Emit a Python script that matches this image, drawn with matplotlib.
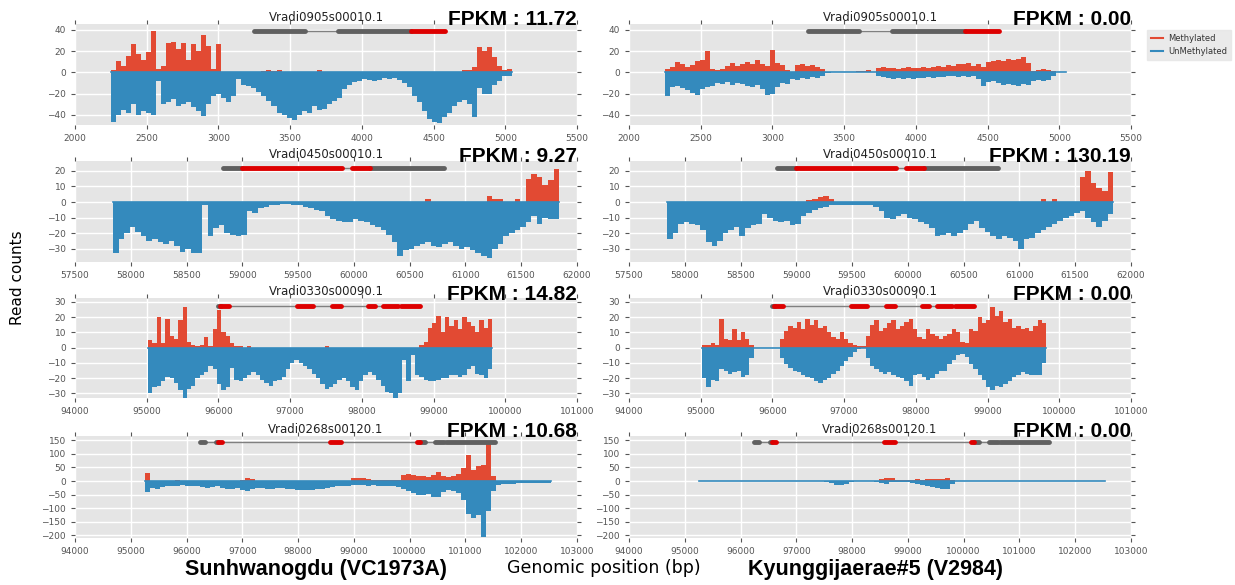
import numpy as np
import matplotlib
matplotlib.use("Agg")
import matplotlib.pyplot as plt
from matplotlib.lines import Line2D

plt.rcParams["axes.formatter.useoffset"] = False

# old ggplot colours
RED = "#E24A33"
BLUE = "#348ABD"

# one entry per row of panels
genes = ["Vradi0905s00010.1", "Vradi0450s00010.1", "Vradi0330s00090.1", "Vradi0268s00120.1"]
fpkm_left = ["11.72", "9.27", "14.82", "10.68"]
fpkm_right = ["0.00", "130.19", "0.00", "0.00"]

# first position and bin size of the read count tracks (bp)
start_pos = [2250, 57840, 95020, 95250]
bin_size = [35, 50, 60, 90]

x_ticks = [list(range(2000, 5501, 500)), list(range(57500, 62001, 500)),
           list(range(94000, 101001, 1000)), list(range(94000, 103001, 1000))]
y_ticks = [[-40, -20, 0, 20, 40], [-30, -20, -10, 0, 10, 20],
           [-30, -20, -10, 0, 10, 20, 30], [-200, -150, -100, -50, 0, 50, 100, 150]]
y_lims = [(-49.5, 45.5), (-38.6, 26.4), (-33, 32.6), (-210, 166)]

# gene models: whole span, thick grey blocks, red blocks, height drawn at
gene_span = [(3246, 4578), (58825, 60805), (96000, 98810), (96237, 101534)]
gene_grey = [[(3246, 3607), (3831, 4342)],
             [(58825, 58995), (60145, 60805)],
             [(96000, 96030)],
             [(96237, 96333), (96520, 96570), (100185, 100270), (100460, 100610), (100650, 101534)]]
gene_red = [[(4342, 4578)],
            [(58995, 59895), (59985, 60145)],
            [(96015, 96150), (97100, 97325), (97590, 97715), (98085, 98185), (98300, 98500), (98550, 98810)],
            [(96570, 96635), (98575, 98770), (100140, 100185)]]
gene_y = [38.5, 22, 27.2, 144]

# ---- row 1 : Vradi0905s00010.1 ----
meth_1_left = [2, 11, 6, 15, 27, 17, 12, 19, 39, 3,
               6, 28, 29, 22, 28, 12, 27, 20, 35, 25,
               3, 27, 0, 0, 0, 0, 0, 0, 0, 0,
               1, 2, 1, 2, 0, 0, 0, 0, 0, 0,
               0, 2, 0, 0, 0, 0, 0, 0, 0, 0,
               0, 0, 0, 0, 0, 0, 0, 0, 0, 0,
               0, 0, 0, 0, 0, 0, 0, 0, 0, 0,
               2, 2, 5, 24, 20, 24, 14, 6, 2, 3]
unmeth_1_left = [-47, -40, -35, -38, -30, -40, -36, -38, -40, -8,
                 -30, -28, -25, -32, -30, -28, -33, -36, -41, -30,
                 -22, -20, -24, -28, -22, -6, -12, -13, -15, -18,
                 -22, -27, -32, -38, -40, -43, -45, -40, -36, -38,
                 -32, -35, -34, -30, -27, -24, -16, -12, -9, -8,
                 -6, -7, -8, -7, -5, -6, -5, -7, -10, -14,
                 -22, -28, -36, -44, -47, -48, -42, -38, -32, -28,
                 -26, -30, -42, -15, -20, -20, -12, -8, -3, -3]
meth_1_right = [3, 5, 10, 8, 5, 7, 11, 12, 20, 3,
                2, 3, 6, 9, 6, 8, 10, 8, 12, 8,
                6, 21, 9, 7, 2, 0, 7, 8, 6, 7,
                5, 3, 0, 0, 0, 0, 0, 0, 1, 1,
                2, 0, 4, 5, 4, 4, 3, 4, 5, 4,
                4, 5, 4, 5, 6, 5, 7, 6, 8, 8,
                9, 6, 8, 5, 10, 11, 12, 11, 13, 12,
                13, 14, 9, 1, 2, 3, 2, 1, 0, 0]
unmeth_1_right = [-22, -14, -13, -15, -17, -19, -21, -16, -14, -13,
                  -10, -11, -9, -12, -10, -11, -13, -14, -12, -16,
                  -21, -20, -14, -10, -11, -6, -7, -5, -6, -4,
                  -5, -3, -1, 0, 0, 0, 0, 0, 0, 0,
                  0, 0, -3, -4, -5, -6, -5, -6, -5, -6,
                  -5, -5, -4, -5, -4, -4, -3, -3, -4, -3,
                  -4, -3, -6, -13, -9, -8, -10, -12, -11, -12,
                  -13, -11, -12, -8, -7, -8, -7, -3, 0, 0]

# ---- row 2 : Vradi0450s00010.1 ----
meth_2_left = [0, 0, 0, 0, 0, 0, 0, 0, 0, 0,
               0, 0, 0, 0, 0, 0, 0, 0, 0, 0,
               0, 0, 0, 0, 0, 0, 0, 0, 0, 0,
               0, 0, 0, 0, 0, 0, 0, 0, 0, 0,
               0, 0, 0, 0, 0, 0, 0, 0, 0, 0,
               0, 0, 0, 0, 0, 0, 2, 0, 0, 0,
               0, 0, 0, 0, 0, 0, 0, 4, 2, 2,
               0, 0, 2, 0, 15, 18, 16, 11, 14, 21]
unmeth_2_left = [-33, -24, -20, -16, -19, -22, -25, -24, -26, -27,
                 -25, -28, -32, -30, -33, -33, -2, -22, -17, -15,
                 -20, -21, -22, -21, -6, -7, -4, -3, -2, -2,
                 -1, -1, -2, -2, -3, -4, -5, -6, -9, -11,
                 -12, -13, -13, -11, -12, -13, -15, -16, -18, -21,
                 -26, -35, -31, -30, -28, -27, -26, -28, -29, -27,
                 -26, -28, -30, -29, -31, -33, -35, -36, -30, -27,
                 -22, -20, -18, -16, -13, -9, -14, -10, -11, -11]
meth_2_right = [0, 0, 0, 0, 0, 0, 0, 0, 0, 0,
                0, 0, 0, 0, 0, 0, 0, 0, 0, 0,
                0, 0, 0, 0, 0, 1, 2, 3, 4, 2,
                0, 0, 0, 0, 0, 0, 0, 0, 0, 0,
                0, 0, 0, 0, 0, 0, 0, 0, 0, 0,
                0, 0, 0, 0, 0, 0, 0, 0, 0, 0,
                0, 0, 0, 0, 0, 0, 0, 2, 0, 2,
                0, 0, 0, 0, 16, 20, 12, 9, 7, 19]
unmeth_2_right = [-24, -20, -14, -13, -14, -15, -18, -26, -28, -25,
                  -20, -18, -16, -22, -17, -15, -14, -8, -10, -12,
                  -13, -12, -15, -14, -9, -7, -5, -4, -3, -2,
                  -2, -2, -2, -2, -2, -2, -2, -3, -6, -10,
                  -11, -9, -8, -10, -11, -13, -14, -17, -22, -21,
                  -20, -22, -20, -18, -14, -12, -17, -19, -22, -24,
                  -22, -23, -25, -30, -24, -23, -20, -18, -16, -14,
                  -12, -10, -9, -7, -6, -10, -13, -16, -12, -8]

# ---- row 3 : Vradi0330s00090.1 ----
meth_3_left = [5, 3, 20, 3, 19, 8, 6, 18, 27, 4,
               2, 1, 2, 7, 1, 12, 25, 10, 8, 3,
               1, 1, 0, 1, 0, 0, 0, 0, 0, 0,
               0, 0, 0, 0, 0, 0, 0, 0, 0, 0,
               0, 1, 0, 0, 0, 0, 0, 0, 0, 0,
               0, 0, 0, 0, 0, 0, 0, 0, 0, 0,
               0, 0, 0, 2, 4, 13, 16, 21, 10, 20,
               14, 18, 12, 20, 17, 14, 10, 18, 13, 19]
unmeth_3_left = [-30, -26, -25, -22, -19, -20, -23, -28, -33, -27,
                 -25, -20, -18, -16, -12, -14, -24, -28, -26, -13,
                 -21, -22, -20, -18, -16, -18, -21, -23, -25, -22,
                 -21, -19, -14, -10, -8, -10, -12, -14, -17, -20,
                 -24, -27, -26, -24, -21, -20, -22, -26, -28, -22,
                 -18, -16, -18, -21, -25, -29, -30, -33, -30, -8,
                 -22, -5, -18, -19, -21, -22, -22, -21, -20, -20,
                 -18, -18, -19, -18, -14, -12, -17, -18, -20, -14]
meth_3_right = [2, 2, 3, 2, 19, 6, 5, 12, 5, 10,
                6, 2, 0, 0, 0, 0, 0, 0, 6, 11,
                14, 13, 17, 12, 19, 15, 18, 13, 14, 10,
                7, 6, 10, 6, 3, 2, 1, 1, 8, 15,
                18, 11, 13, 16, 18, 12, 14, 17, 19, 12,
                7, 6, 12, 9, 8, 6, 8, 9, 12, 10,
                4, 3, 12, 11, 20, 16, 18, 27, 21, 24,
                17, 19, 13, 14, 12, 13, 11, 14, 18, 16]
unmeth_3_right = [-20, -26, -21, -22, -14, -15, -17, -16, -15, -19,
                  -18, -7, 0, 0, 0, 0, 0, 0, -7, -11,
                  -13, -15, -16, -18, -19, -20, -22, -23, -21, -20,
                  -17, -15, -12, -9, -6, -3, -1, 0, -7, -12,
                  -14, -16, -17, -16, -18, -19, -20, -22, -25, -18,
                  -17, -19, -21, -20, -17, -15, -15, -11, -8, -5,
                  -4, -6, -11, -14, -18, -21, -26, -28, -25, -26,
                  -24, -22, -19, -18, -16, -17, -18, -18, -18, -10]

# ---- row 4 : Vradi0268s00120.1 ----
meth_4_left = [30, 0, 0, 0, 0, 0, 2, 0, 0, 0,
               0, 0, 0, 0, 0, 0, 0, 0, 0, 5,
               12, 8, 0, 0, 0, 0, 0, 0, 0, 0,
               0, 0, 0, 0, 0, 0, 0, 0, 0, 0,
               0, 10, 13, 11, 6, 2, 2, 2, 2, 2,
               5, 24, 25, 22, 18, 20, 15, 22, 33, 20,
               15, 18, 25, 48, 95, 40, 55, 60, 145, 20,
               0, 0, 0, 0, 0, 0, 0, 0, 0, 0, 0]
unmeth_4_left = [-40, -25, -30, -22, -20, -18, -17, -16, -18, -19,
                 -20, -22, -24, -22, -20, -24, -28, -30, -27, -32,
                 -35, -30, -27, -25, -28, -30, -27, -26, -29, -30,
                 -32, -33, -34, -32, -30, -28, -25, -22, -20, -18,
                 -17, -16, -15, -15, -17, -16, -18, -17, -19, -20,
                 -22, -28, -38, -45, -50, -52, -48, -58, -60, -40,
                 -32, -38, -45, -70, -120, -135, -125, -205, -110, -35,
                 -14, -12, -10, -10, -9, -9, -8, -8, -7, -6, -6]
meth_4_right = [0, 0, 0, 0, 0, 0, 0, 0, 0, 0,
                0, 0, 0, 0, 0, 0, 0, 0, 0, 0,
                0, 0, 0, 0, 0, 0, 0, 0, 0, 0,
                0, 0, 0, 0, 0, 0, 8, 12, 10, 4,
                3, 2, 4, 6, 5, 7, 6, 8, 9, 12,
                3, 0, 0, 0, 0, 0, 0, 0, 0, 0,
                0, 0, 0, 0, 0, 0, 0, 0, 0, 0,
                0, 0, 0, 0, 0, 0, 0, 0, 0, 0, 0]
unmeth_4_right = [0, 0, 0, 0, 0, 0, 0, 0, 0, 0,
                  0, 0, 0, 0, 0, 0, 0, 0, 0, 0,
                  0, 0, 0, 0, 0, -4, -8, -13, -15, -10,
                  -3, 0, 0, 0, 0, -2, -8, -10, -5, -4,
                  -4, -3, -6, -10, -14, -18, -22, -26, -30, -28,
                  -12, 0, 0, 0, 0, 0, 0, 0, 0, 0,
                  0, 0, 0, 0, 0, 0, 0, 0, 0, 0,
                  0, 0, 0, 0, 0, 0, 0, 0, 0, 0, 0]

left_tracks = [(meth_1_left, unmeth_1_left), (meth_2_left, unmeth_2_left),
               (meth_3_left, unmeth_3_left), (meth_4_left, unmeth_4_left)]
right_tracks = [(meth_1_right, unmeth_1_right), (meth_2_right, unmeth_2_right),
                (meth_3_right, unmeth_3_right), (meth_4_right, unmeth_4_right)]


# Draw one panel: read counts, gene model and labels
def draw_panel(ax, row, meth, unmeth, fpkm):
    x = start_pos[row] + bin_size[row] * np.arange(len(meth))
    edges = np.append(x, x[-1] + bin_size[row])
    ax.stairs(meth, edges, fill=True, color=RED, lw=0, zorder=2)
    ax.stairs(unmeth, edges, fill=True, color=BLUE, lw=0, zorder=2)
    ax.plot([edges[0], edges[-1]], [0, 0], color=BLUE, lw=1.2, zorder=2)

    # gene model on top
    gy = gene_y[row]
    ax.plot(gene_span[row], [gy, gy], color="#808080", lw=1, zorder=3)
    for a, b in gene_grey[row]:
        ax.plot([a, b], [gy, gy], color="#606060", lw=3.5, solid_capstyle="round", zorder=4)
    for a, b in gene_red[row]:
        ax.plot([a, b], [gy, gy], color="#DD0000", lw=3.5, solid_capstyle="round", zorder=4)

    ax.set_xlim(x_ticks[row][0], x_ticks[row][-1])
    ax.set_ylim(y_lims[row])
    ax.set_xticks(x_ticks[row])
    ax.set_yticks(y_ticks[row])

    ax.set_facecolor("#E5E5E5")
    for sp in ax.spines.values():
        sp.set_visible(False)
    ax.grid(True, color="white", lw=1)
    ax.set_axisbelow(True)
    ax.tick_params(direction="out", length=3, width=0.8, color="#555555",
                   labelcolor="#555555", labelsize=6.5, top=True, right=True)

    ax.set_title(genes[row], fontsize=8.5, pad=2, color="#222222")
    ax.text(1.0, 1.04, "FPKM : " + fpkm, transform=ax.transAxes, ha="right", va="center",
            fontsize=15, fontweight="bold", family="Liberation Sans")


fig = plt.figure(figsize=(12.35, 5.85), dpi=100)

W, H = 1235.0, 585.0
row_px = [(24, 125), (161, 262), (298, 398), (436, 538)]
for r in range(4):
    top, bot = row_px[r]
    axl = fig.add_axes([75 / W, 1 - bot / H, 502 / W, (bot - top) / H])
    draw_panel(axl, r, left_tracks[r][0], left_tracks[r][1], fpkm_left[r])
    axr = fig.add_axes([629 / W, 1 - bot / H, 502 / W, (bot - top) / H])
    draw_panel(axr, r, right_tracks[r][0], right_tracks[r][1], fpkm_right[r])

# figure labels
fig.text(316 / W, 1 - 570 / H, "Sunhwanogdu (VC1973A)", ha="center", va="center",
         fontsize=15.5, fontweight="bold", family="Liberation Sans")
fig.text(876 / W, 1 - 570 / H, "Kyunggijaerae#5 (V2984)", ha="center", va="center",
         fontsize=15.5, fontweight="bold", family="Liberation Sans")
fig.text(604 / W, 1 - 568 / H, "Genomic position (bp)", ha="center", va="center", fontsize=12.5)
fig.text(18 / W, 1 - 278 / H, "Read counts", ha="center", va="center", rotation=90, fontsize=11)

handles = [Line2D([], [], color=RED, lw=1.5), Line2D([], [], color=BLUE, lw=1.5)]
leg = fig.legend(handles, ["Methylated", "UnMethylated"], loc="upper left",
                 bbox_to_anchor=(1143 / W, 1 - 26 / H), fontsize=6, frameon=True,
                 facecolor="#E5E5E5", edgecolor="#E5E5E5", fancybox=False,
                 handlelength=1.4, handletextpad=0.6, borderpad=0.5, labelspacing=0.4)
for t in leg.get_texts():
    t.set_color("#333333")

fig.savefig("out.png", dpi=100, facecolor="white")
